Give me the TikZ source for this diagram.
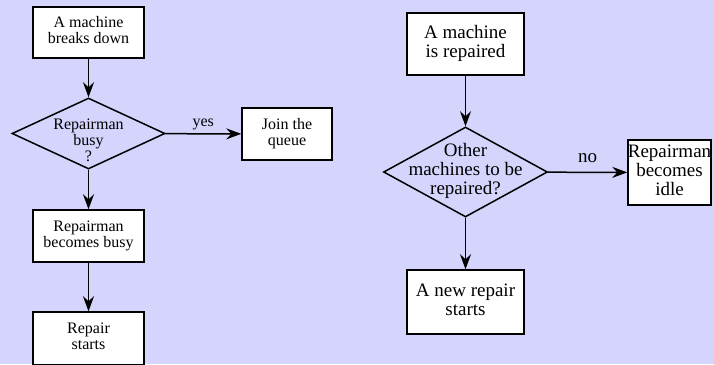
\documentclass[tikz,border=0pt]{standalone}
\usepackage{fontspec}
\setmainfont{Liberation Serif}
\usetikzlibrary{shapes.geometric,arrows.meta}
\definecolor{bglav}{RGB}{212,212,252}
\newcommand{\ctext}[2][-4.5pt]{\makebox[0pt]{\smash{\raisebox{#1}{\begin{tabular}{@{}c@{}}#2\end{tabular}}}}}

\begin{document}
\begin{tikzpicture}[x=1pt, y=-1pt, line width=1.5pt,
    box/.style={draw, fill=white, inner sep=0pt},
    decision/.style={draw, diamond, inner sep=0pt},
    flow/.style={-{Stealth[length=15pt,width=11pt,inset=5pt]}},
    small/.style={font=\fontsize{16}{16}\selectfont},
    large/.style={font=\fontsize{19}{19}\selectfont}]
    \fill[bglav] (0,0) rectangle (714,364);
    \useasboundingbox (0,0) rectangle (714,364);

    % breakdown
    \node[box, small, minimum width=111pt, minimum height=51pt] (brk) at (88.5,32.5) {\ctext{A machine\\breaks down}};
    \node[decision, small, minimum width=153pt, minimum height=71pt] (busy) at (88.5,133.5) {\ctext[-13pt]{Repairman\\busy\\?}};
    \node[box, small, minimum width=90pt, minimum height=52pt] (queue) at (287,134) {\ctext{Join the\\queue}};
    \node[box, small, minimum width=111pt, minimum height=52pt] (becbusy) at (88.5,236) {\ctext{Repairman\\becomes busy}};
    \node[box, small, minimum width=111pt, minimum height=53pt] (rstart) at (88.5,338.5) {\ctext{Repair\\starts}};

    \draw[flow] (brk) -- (busy);
    \draw[flow] (busy) -- node[above, small] {yes} (queue);
    \draw[flow] (busy) -- (becbusy);
    \draw[flow] (becbusy) -- (rstart);

    % end of repair
    \node[box, large, minimum width=117pt, minimum height=62pt] (rep) at (465.5,44) {\ctext{A machine\\is repaired}};
    \node[decision, large, minimum width=164pt, minimum height=90pt] (other) at (465.5,172) {\ctext{Other\\machines to be\\repaired?}};
    \node[box, large, minimum width=83pt, minimum height=65pt] (idle) at (669.5,172.5) {\ctext{Repairman\\becomes\\idle}};
    \node[box, large, minimum width=117pt, minimum height=64pt] (newrep) at (465.5,302) {\ctext{A new repair\\starts}};

    \draw[flow] (rep) -- (other);
    \draw[flow] (other) -- node[above=6pt, large] {no} (idle);
    \draw[flow] (other) -- (newrep);
\end{tikzpicture}
\end{document}
